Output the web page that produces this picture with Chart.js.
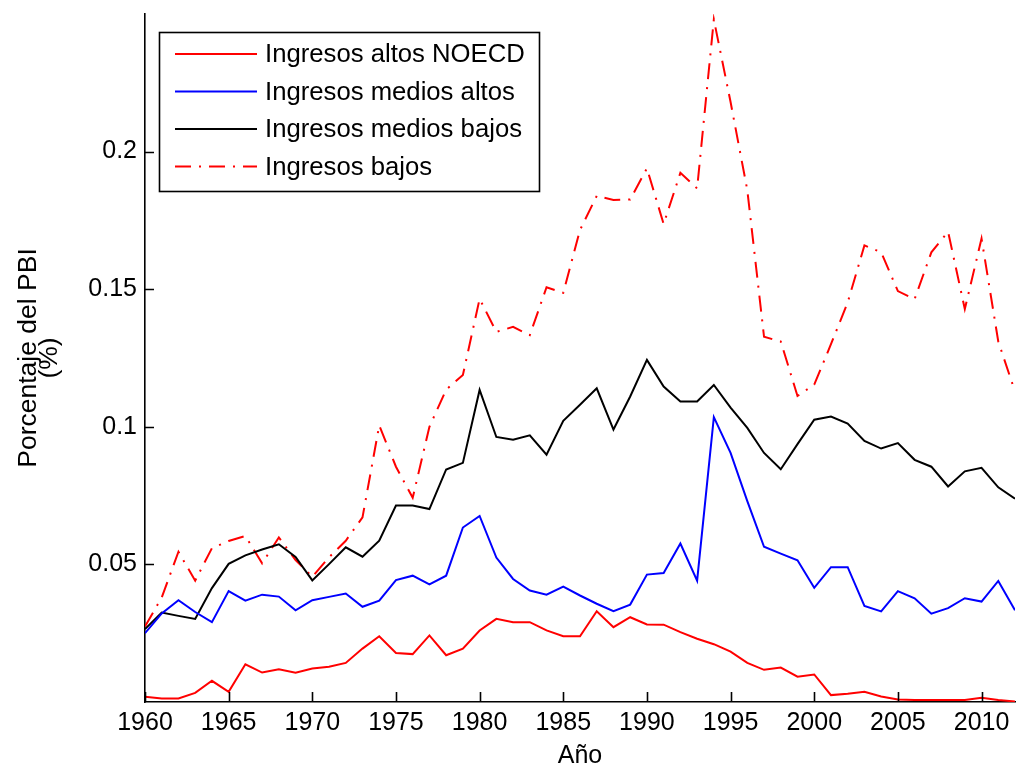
<!DOCTYPE html>
<html>
<head>
<meta charset="utf-8">
<script src="https://cdn.jsdelivr.net/npm/chart.js@4.4.1/dist/chart.umd.min.js"></script>
<style>
  html, body { margin: 0; padding: 0; background: #ffffff; }
  #wrap { width: 1018px; height: 771px; }
</style>
</head>
<body>
<div id="wrap"><canvas id="chart" width="1018" height="771"></canvas></div>
<script>
// Años de la serie
const years = [
  1960, 1961, 1962, 1963, 1964, 1965, 1966, 1967, 1968, 1969,
  1970, 1971, 1972, 1973, 1974, 1975, 1976, 1977, 1978, 1979,
  1980, 1981, 1982, 1983, 1984, 1985, 1986, 1987, 1988, 1989,
  1990, 1991, 1992, 1993, 1994, 1995, 1996, 1997, 1998, 1999,
  2000, 2001, 2002, 2003, 2004, 2005, 2006, 2007, 2008, 2009,
  2010, 2011, 2012
];

// Ingresos altos NOECD
const altosNOECD = [
  0.0019, 0.0013, 0.0013, 0.0033, 0.0077, 0.0037, 0.0137, 0.0107, 0.0119, 0.0106,
  0.0122, 0.0128, 0.0142, 0.0194, 0.0239, 0.0178, 0.0174, 0.0242, 0.0170, 0.0194,
  0.0260, 0.0302, 0.0290, 0.0290, 0.0260, 0.0239, 0.0239, 0.0330, 0.0272, 0.0308,
  0.0282, 0.0281, 0.0254, 0.0230, 0.0210, 0.0183, 0.0142, 0.0117, 0.0125, 0.0092,
  0.0100, 0.0025, 0.0030, 0.0037, 0.0020, 0.0009, 0.0007, 0.0007, 0.0007, 0.0007,
  0.0015, 0.0007, 0.0002
];

// Ingresos medios altos
const mediosAltos = [
  0.0250, 0.0322, 0.0370, 0.0327, 0.0290, 0.0403, 0.0368, 0.0390, 0.0383, 0.0333,
  0.0370, 0.0382, 0.0394, 0.0346, 0.0368, 0.0443, 0.0459, 0.0427, 0.0459, 0.0634,
  0.0676, 0.0525, 0.0447, 0.0405, 0.0390, 0.0419, 0.0387, 0.0357, 0.0330, 0.0354,
  0.0463, 0.0469, 0.0576, 0.0441, 0.1035, 0.0905, 0.0730, 0.0564, 0.0539, 0.0515,
  0.0415, 0.0490, 0.0490, 0.0349, 0.0329, 0.0403, 0.0377, 0.0321, 0.0341, 0.0377,
  0.0365, 0.0440, 0.0333
];

// Ingresos medios bajos
const mediosBajos = [
  0.0265, 0.0325, 0.0313, 0.0302, 0.0414, 0.0502, 0.0533, 0.0554, 0.0573, 0.0527,
  0.0442, 0.0501, 0.0562, 0.0528, 0.0586, 0.0714, 0.0714, 0.0701, 0.0845, 0.0869,
  0.1134, 0.0963, 0.0953, 0.0969, 0.0899, 0.1022, 0.1080, 0.1140, 0.0990, 0.1110,
  0.1243, 0.1146, 0.1092, 0.1092, 0.1152, 0.1070, 0.0996, 0.0905, 0.0846, 0.0937,
  0.1026, 0.1037, 0.1012, 0.0949, 0.0921, 0.0941, 0.0880, 0.0855, 0.0783, 0.0838,
  0.0851, 0.0780, 0.0739
];

// Ingresos bajos
const bajos = [
  0.0274, 0.0380, 0.0546, 0.0441, 0.0559, 0.0585, 0.0603, 0.0504, 0.0598, 0.0516,
  0.0455, 0.0526, 0.0586, 0.0671, 0.1005, 0.0855, 0.0742, 0.1000, 0.1135, 0.1188,
  0.1465, 0.1345, 0.1363, 0.1333, 0.1507, 0.1487, 0.1715, 0.1839, 0.1824, 0.1826,
  0.1939, 0.1737, 0.1923, 0.1866, 0.2480, 0.2180, 0.1860, 0.1327, 0.1310, 0.1112,
  0.1153, 0.1300, 0.1452, 0.1659, 0.1634, 0.1493, 0.1464, 0.1634, 0.1709, 0.1428,
  0.1684, 0.1310, 0.1128
];

const seriesNames = [
  'Ingresos altos NOECD',
  'Ingresos medios altos',
  'Ingresos medios bajos',
  'Ingresos bajos'
];

// Marcas de los ejes
const xTickValues = [1960, 1965, 1970, 1975, 1980, 1985, 1990, 1995, 2000, 2005, 2010];
const yTickValues = [0.05, 0.1, 0.15, 0.2];
const yTickLabels = ['0.05', '0.1', '0.15', '0.2'];

const FONT = "'Liberation Sans', Arial, Helvetica, sans-serif";

function toPoints(values) {
  return years.map((yr, i) => ({ x: yr, y: values[i] }));
}

// Marcas hacia adentro del área de trazado
const inwardTicks = {
  id: 'inwardTicks',
  afterDatasetsDraw(chart) {
    const { ctx, chartArea, scales } = chart;
    ctx.save();
    ctx.strokeStyle = '#000';
    ctx.lineWidth = 1.6;
    ctx.beginPath();
    scales.x.ticks.forEach(t => {
      const px = Math.round(scales.x.getPixelForValue(t.value)) + 0.5;
      ctx.moveTo(px, chartArea.bottom);
      ctx.lineTo(px, chartArea.bottom - 10);
    });
    scales.y.ticks.forEach(t => {
      const py = Math.round(scales.y.getPixelForValue(t.value)) + 0.5;
      ctx.moveTo(chartArea.left, py);
      ctx.lineTo(chartArea.left + 9, py);
    });
    ctx.stroke();
    ctx.restore();
  }
};

// Cuadro de leyenda en la esquina superior izquierda
const boxLegend = {
  id: 'boxLegend',
  afterDraw(chart) {
    const { ctx } = chart;
    const x0 = 159.5, y0 = 32.5, w = 380, h = 159;
    ctx.save();
    ctx.fillStyle = '#fff';
    ctx.fillRect(x0, y0, w, h);
    ctx.strokeStyle = '#000';
    ctx.lineWidth = 1.6;
    ctx.strokeRect(x0, y0, w, h);
    ctx.font = '25.7px ' + FONT;
    ctx.textBaseline = 'middle';
    ctx.textAlign = 'left';
    chart.data.datasets.forEach((ds, i) => {
      const cy = 54 + i * 37.5;
      ctx.strokeStyle = ds.borderColor;
      ctx.lineWidth = ds.borderWidth;
      ctx.setLineDash(ds.borderDash || []);
      ctx.beginPath();
      ctx.moveTo(175, cy);
      ctx.lineTo(257, cy);
      ctx.stroke();
      ctx.setLineDash([]);
      ctx.fillStyle = '#000';
      ctx.fillText(ds.label, 265, cy + 1);
    });
    ctx.restore();
  }
};

new Chart(document.getElementById('chart'), {
  type: 'line',
  data: {
    datasets: [
      { label: seriesNames[0], data: toPoints(altosNOECD), borderColor: '#ff0000', borderWidth: 2 },
      { label: seriesNames[1], data: toPoints(mediosAltos), borderColor: '#0000ff', borderWidth: 2 },
      { label: seriesNames[2], data: toPoints(mediosBajos), borderColor: '#000000', borderWidth: 2 },
      { label: seriesNames[3], data: toPoints(bajos), borderColor: '#ff0000', borderWidth: 2, borderDash: [16, 8, 2, 8] }
    ]
  },
  options: {
    responsive: false,
    animation: false,
    devicePixelRatio: 1,
    layout: { padding: { top: 14, right: 3, left: 0, bottom: 0 } },
    elements: {
      point: { radius: 0 },
      line: { tension: 0, fill: false }
    },
    plugins: {
      legend: { display: false },
      tooltip: { enabled: false }
    },
    scales: {
      x: {
        type: 'linear',
        min: 1960,
        max: 2012,
        afterBuildTicks(scale) { scale.ticks = xTickValues.map(v => ({ value: v })); },
        afterFit(scale) {
          scale.height = 69;
          scale.paddingLeft = 0;
          scale.paddingRight = 0;
        },
        grid: { display: false, drawTicks: false },
        border: { display: true, color: '#000', width: 1.6 },
        ticks: {
          color: '#000',
          font: { family: FONT, size: 25 },
          padding: 6,
          maxRotation: 0,
          autoSkip: false,
          callback: v => String(v)
        },
        title: {
          display: true,
          text: 'Año',
          color: '#000',
          font: { family: FONT, size: 25 },
          padding: { top: 0, bottom: 0 }
        }
      },
      y: {
        min: 0,
        max: 0.25,
        afterBuildTicks(scale) { scale.ticks = yTickValues.map(v => ({ value: v })); },
        afterFit(scale) {
          scale.width = 145;
          scale.paddingTop = 0;
          scale.paddingBottom = 0;
        },
        grid: { display: false, drawTicks: false },
        border: { display: true, color: '#000', width: 1.6 },
        ticks: {
          color: '#000',
          font: { family: FONT, size: 25 },
          padding: 8,
          autoSkip: false,
          callback: (v) => {
            const i = yTickValues.findIndex(t => Math.abs(t - v) < 1e-9);
            return i >= 0 ? yTickLabels[i] : '';
          }
        },
        title: {
          display: true,
          text: ['Porcentaje del PBI', '(%)'],
          color: '#000',
          font: { family: FONT, size: 26.5, lineHeight: 0.8 },
          padding: { top: 18, bottom: 0 }
        }
      }
    }
  },
  plugins: [inwardTicks, boxLegend]
});
</script>
</body>
</html>
